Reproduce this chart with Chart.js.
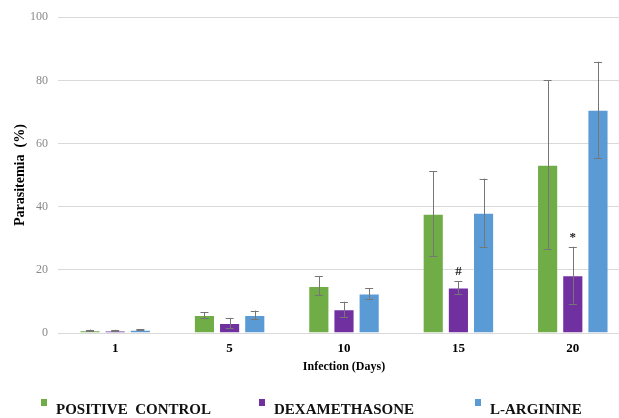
<!DOCTYPE html>
<html>
<head>
<meta charset="utf-8">
<script src="https://cdn.jsdelivr.net/npm/chart.js@4.4.1/dist/chart.umd.min.js"></script>
<style>
  html, body { margin: 0; padding: 0; background: #fff; overflow: hidden; }
  #wrap { position: relative; width: 632px; height: 418px; }
  #legend { position: absolute; left: 0; top: 390px; width: 619px; height: 28px;
            font-family: "Liberation Serif", "Times New Roman", serif; font-weight: bold;
            font-size: 15px; line-height: 15px; color: #111; }
  .item { position: absolute; top: 12px; white-space: pre; }
  .sw { position: absolute; width: 6px; height: 7px; top: 9px; }
</style>
</head>
<body>
<div id="wrap">
  <canvas id="chart"></canvas>
  <div id="legend"></div>
</div>
<script>
// Days of infection
const days = ['1', '5', '10', '15', '20'];
const seriesNames = ['POSITIVE  CONTROL', 'DEXAMETHASONE', 'L-ARGININE'];

// Mean parasitemia (%) per group
const positiveControl = [0.9, 5.7, 14.9, 37.8, 53.3];
const dexamethasone   = [0.8, 3.2, 7.5, 14.4, 18.3];
const lArginine       = [1.0, 5.7, 12.5, 38.1, 70.7];

// Standard deviations
const positiveControlErr = [0.2, 0.9, 3.0, 13.4, 26.8];
const dexamethasoneErr   = [0.2, 1.6, 2.4, 2.0, 9.0];
const lArginineErr       = [0.2, 1.4, 1.6, 10.8, 15.2];

// Significance marks above the dexamethasone bars
const dexMarks = ['', '', '', '#', '*'];

const yTicks = [0, 20, 40, 60, 80, 100];

const colors = ['#70AD47', '#7030A0', '#5B9BD5'];
const errors = [positiveControlErr, dexamethasoneErr, lArginineErr];
const marks = [null, dexMarks, null];

const serif = '"Liberation Serif", "Times New Roman", serif';

const errorBars = {
  id: 'errorBars',
  afterDatasetsDraw(chart) {
    const ctx = chart.ctx;
    const y = chart.scales.y;
    ctx.save();
    chart.data.datasets.forEach((ds, di) => {
      const meta = chart.getDatasetMeta(di);
      meta.data.forEach((bar, i) => {
        const v = ds.data[i], e = errors[di][i];
        const top = y.getPixelForValue(v + e);
        const bot = y.getPixelForValue(Math.max(v - e, 0));
        ctx.strokeStyle = '#767676';
        ctx.lineWidth = 1;
        ctx.beginPath();
        ctx.moveTo(Math.round(bar.x) + 0.5, top);
        ctx.lineTo(Math.round(bar.x) + 0.5, bot);
        ctx.moveTo(bar.x - 4, Math.round(top) + 0.5);
        ctx.lineTo(bar.x + 4, Math.round(top) + 0.5);
        ctx.moveTo(bar.x - 4, Math.round(bot) + 0.5);
        ctx.lineTo(bar.x + 4, Math.round(bot) + 0.5);
        ctx.stroke();
        if (marks[di] && marks[di][i]) {
          ctx.fillStyle = '#222';
          ctx.font = 'bold 13px ' + serif;
          ctx.textAlign = 'center';
          ctx.textBaseline = 'bottom';
          ctx.fillText(marks[di][i], bar.x, top - 3);
        }
      });
    });
    ctx.restore();
  }
};

new Chart(document.getElementById('chart'), {
  type: 'bar',
  data: {
    labels: days,
    datasets: [positiveControl, dexamethasone, lArginine].map((d, i) => ({
      label: seriesNames[i],
      data: d,
      backgroundColor: colors[i],
      borderColor: 'rgba(255,255,255,0.35)',
      borderWidth: 1,
      barPercentage: 0.84,
      categoryPercentage: 0.66
    }))
  },
  options: {
    responsive: true,
    maintainAspectRatio: false,
    animation: false,
    layout: { padding: { top: 10, right: 2, bottom: 40, left: 0 } },
    plugins: { legend: { display: false }, tooltip: { enabled: false } },
    scales: {
      x: {
        grid: { display: false },
        border: { display: false },
        ticks: { color: '#000', font: { family: serif, weight: 'bold', size: 13 }, padding: 0 },
        title: { display: true, text: 'Infection (Days)', color: '#000',
                 font: { family: serif, weight: 'bold', size: 12 }, padding: { top: 2 } },
        afterFit(s) { s.height = 45; }
      },
      y: {
        min: 0, max: 100,
        afterBuildTicks(s) { s.ticks = yTicks.map(v => ({ value: v })); },
        grid: { color: '#d9d9d9', drawTicks: false },
        border: { display: false },
        ticks: { color: '#8a8a8a', font: { family: serif, size: 12 }, padding: 10 },
        title: { display: true, text: 'Parasitemia  (%)', color: '#000',
                 font: { family: serif, weight: 'bold', size: 14 }, padding: { top: 12, bottom: 4 } },
        afterFit(s) { s.width = 58; }
      }
    }
  },
  plugins: [errorBars]
});

// Legend built from the series names and colours
const legendPos = [41, 259, 475];
const legend = document.getElementById('legend');
seriesNames.forEach((name, i) => {
  const sw = document.createElement('div');
  sw.className = 'sw';
  sw.style.left = legendPos[i] + 'px';
  sw.style.background = colors[i];
  legend.appendChild(sw);
  const t = document.createElement('div');
  t.className = 'item';
  t.style.left = (legendPos[i] + 15) + 'px';
  t.textContent = name;
  legend.appendChild(t);
});
</script>
</body>
</html>
